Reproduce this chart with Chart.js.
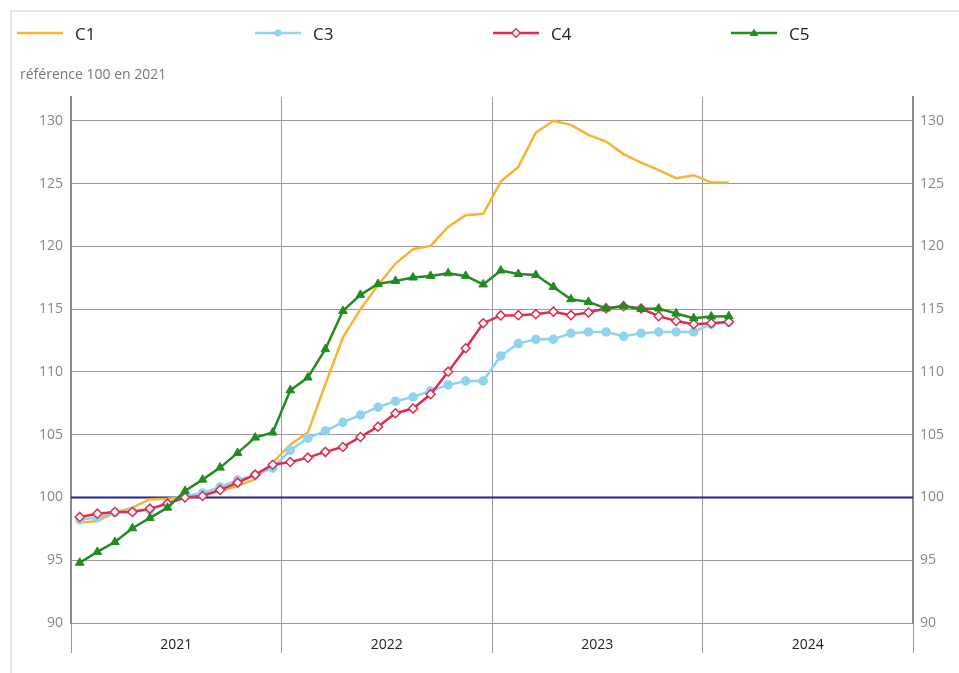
<!DOCTYPE html>
<html lang="fr">
<head>
<meta charset="utf-8">
<script src="https://cdn.jsdelivr.net/npm/chart.js@4"></script>
<style>
  html, body { margin: 0; padding: 0; background: #fff; overflow: hidden; }
  body { width: 959px; height: 673px; position: relative; font-family: 'Open Sans', sans-serif; }
  .frame { position: absolute; left: 10px; top: 10px; width: 980px; height: 700px; border: 2px solid #e4e4e4; box-sizing: border-box; }
  .legend { position: absolute; left: 17px; top: 21px; height: 26px; }
  .legend-item { position: absolute; top: 0; white-space: nowrap; font-size: 17px; color: #222; line-height: 26px; }
  .legend-item svg { position: absolute; left: 0; top: 5px; }
  .legend-item span { position: absolute; left: 58px; top: 0; }
  .subtitle { position: absolute; left: 20px; top: 64px; font-size: 14px; color: #777; }
  .chart-box { position: absolute; left: 0; top: 0; width: 959px; height: 673px; }
</style>
</head>
<body>
<div class="frame"></div>
<div class="chart-box"><canvas id="indexChart"></canvas></div>
<div class="legend" id="legend"></div>
<div class="subtitle">référence 100 en 2021</div>
<script>
const MONTHS = [
  '2021-01', '2021-02', '2021-03', '2021-04', '2021-05', '2021-06',
  '2021-07', '2021-08', '2021-09', '2021-10', '2021-11', '2021-12',
  '2022-01', '2022-02', '2022-03', '2022-04', '2022-05', '2022-06',
  '2022-07', '2022-08', '2022-09', '2022-10', '2022-11', '2022-12',
  '2023-01', '2023-02', '2023-03', '2023-04', '2023-05', '2023-06',
  '2023-07', '2023-08', '2023-09', '2023-10', '2023-11', '2023-12',
  '2024-01', '2024-02',
];
const YEARS = ['2021', '2022', '2023', '2024'];
const Y_TICKS = [90, 95, 100, 105, 110, 115, 120, 125, 130];
const REF_VALUE = 100;

const C1 = [97.99, 98.13, 98.79, 99.19, 99.86, 99.9, 100.04, 100.25, 100.52, 100.92, 101.45, 102.77,
  104.2, 105.17, 109.02, 112.73, 115.0, 116.9, 118.63, 119.78, 120.04, 121.55, 122.49, 122.6,
  125.16, 126.33, 129.07, 130.0, 129.68, 128.88, 128.35, 127.35, 126.68, 126.07, 125.43, 125.67,
  125.08, 125.08];
const C3 = [98.22, 98.4, 98.8, 98.9, 99.0, 99.5, 100.1, 100.36, 100.84, 101.39, 101.8, 102.33,
  103.76, 104.72, 105.3, 105.99, 106.57, 107.19, 107.67, 108.0, 108.49, 108.96, 109.28, 109.28,
  111.27, 112.26, 112.6, 112.6, 113.08, 113.19, 113.19, 112.84, 113.08, 113.19, 113.19, 113.19,
  113.8, 113.93];
const C4 = [98.45, 98.71, 98.84, 98.84, 99.11, 99.51, 100.0, 100.12, 100.6, 101.18, 101.82, 102.61,
  102.83, 103.17, 103.63, 104.02, 104.82, 105.64, 106.71, 107.08, 108.22, 110.02, 111.89, 113.88,
  114.5, 114.52, 114.6, 114.8, 114.52, 114.73, 115.07, 115.23, 115.05, 114.44, 114.06, 113.8,
  113.88, 114.0];
const C5 = [94.8, 95.66, 96.45, 97.55, 98.37, 99.19, 100.52, 101.42, 102.38, 103.55, 104.77, 105.17,
  108.54, 109.55, 111.81, 114.86, 116.14, 117.0, 117.25, 117.52, 117.65, 117.86, 117.65, 116.97,
  118.08, 117.8, 117.72, 116.77, 115.79, 115.58, 115.05, 115.26, 115.02, 115.05, 114.65, 114.28,
  114.41, 114.44];

const COLORS = {
  c1: '#fbb234',
  c3: '#90d3ef',
  c4: '#dc2d52',
  c5: '#228b22',
  ref: '#25258f',
  grid: '#999999',
  axis: '#8a8a8a',
};

// month string -> position on a 0..48 axis (middle of the month)
function monthPos(m) {
  const [y, mo] = m.split('-').map(Number);
  return (y - Number(YEARS[0])) * 12 + (mo - 1) + 0.5;
}

function toPoints(values) {
  return values.map((v, i) => ({ x: monthPos(MONTHS[i]), y: v }));
}

const refLine = {
  id: 'refLine',
  beforeDatasetsDraw(chart) {
    const { ctx, chartArea, scales } = chart;
    const y = scales.y.getPixelForValue(REF_VALUE);
    ctx.save();
    ctx.strokeStyle = COLORS.ref;
    ctx.lineWidth = 2;
    ctx.beginPath();
    ctx.moveTo(chartArea.left, y);
    ctx.lineTo(chartArea.right, y);
    ctx.stroke();
    ctx.restore();
  },
};

function buildLegend() {
  const items = [
    { label: 'C1', color: COLORS.c1, marker: '' },
    { label: 'C3', color: COLORS.c3, marker: `<circle cx="23" cy="7" r="3.5" fill="${COLORS.c3}"/>` },
    { label: 'C4', color: COLORS.c4, marker: `<rect x="20" y="4" width="6" height="6" transform="rotate(45 23 7)" fill="#fff" stroke="${COLORS.c4}" stroke-width="1.5"/>` },
    { label: 'C5', color: COLORS.c5, marker: `<path d="M23 2.5 L27.5 10 L18.5 10 Z" fill="${COLORS.c5}"/>` },
  ];
  document.getElementById('legend').innerHTML = items
    .map((it, i) => `
      <div class="legend-item" style="left:${i * 238}px">
        <svg width="46" height="14" viewBox="0 0 46 14">
          <line x1="0" y1="7" x2="46" y2="7" stroke="${it.color}" stroke-width="2.5"/>
          ${it.marker}
        </svg>
        <span>${it.label}</span>
      </div>`)
    .join('');
}

function initChart() {
  const yTickFont = { family: 'Open Sans', size: 14 };
  const ctx = document.getElementById('indexChart').getContext('2d');
  new Chart(ctx, {
    type: 'line',
    data: {
      datasets: [
        {
          label: 'C5',
          data: toPoints(C5),
          borderColor: COLORS.c5,
          backgroundColor: COLORS.c5,
          borderWidth: 2.5,
          pointStyle: 'triangle',
          pointRadius: 5,
          pointBorderWidth: 1,
          tension: 0,
          order: 0,
        },
        {
          label: 'C4',
          data: toPoints(C4),
          borderColor: COLORS.c4,
          backgroundColor: '#ffffff',
          borderWidth: 2.5,
          pointStyle: 'rectRot',
          pointRadius: 4.5,
          pointBorderWidth: 1.5,
          tension: 0,
          order: 1,
        },
        {
          label: 'C3',
          data: toPoints(C3),
          borderColor: COLORS.c3,
          backgroundColor: COLORS.c3,
          borderWidth: 2.5,
          pointStyle: 'circle',
          pointRadius: 3.5,
          tension: 0,
          order: 2,
        },
        {
          label: 'C1',
          data: toPoints(C1),
          borderColor: COLORS.c1,
          borderWidth: 2.5,
          pointRadius: 0,
          tension: 0,
          order: 3,
        },
      ],
    },
    options: {
      animation: false,
      responsive: true,
      maintainAspectRatio: false,
      layout: { padding: { left: 11, top: 97, right: 0, bottom: 0 } },
      plugins: {
        legend: { display: false },
        tooltip: { enabled: false },
      },
      scales: {
        x: {
          type: 'linear',
          min: 0,
          max: YEARS.length * 12,
          afterBuildTicks: scale => {
            const ticks = [];
            for (let v = 0; v <= YEARS.length * 12; v += 6) ticks.push({ value: v });
            scale.ticks = ticks;
          },
          afterFit: scale => { scale.height = 50; },
          border: { display: false },
          grid: {
            color: c => (c.tick && c.tick.value % 12 === 0 ? COLORS.grid : 'rgba(0,0,0,0)'),
            lineWidth: 1,
            tickLength: 30,
            drawTicks: true,
          },
          ticks: {
            autoSkip: false,
            maxRotation: 0,
            padding: -16,
            color: '#222',
            font: { family: 'Open Sans', size: 14 },
            callback: v => (v % 12 === 6 ? YEARS[(v - 6) / 12] : ''),
          },
        },
        y: {
          position: 'left',
          min: 90,
          max: 131.9,
          afterBuildTicks: scale => { scale.ticks = Y_TICKS.map(v => ({ value: v })); },
          afterFit: scale => { scale.width = 60; },
          border: { color: COLORS.axis, width: 2 },
          grid: { color: COLORS.grid, lineWidth: 1, drawTicks: false },
          ticks: { color: '#888', font: yTickFont, padding: 8 },
        },
        y2: {
          position: 'right',
          min: 90,
          max: 131.9,
          afterBuildTicks: scale => { scale.ticks = Y_TICKS.map(v => ({ value: v })); },
          afterFit: scale => { scale.width = 46; },
          border: { color: COLORS.axis, width: 2 },
          grid: { display: false, drawTicks: false },
          ticks: { color: '#888', font: yTickFont, padding: 7 },
        },
      },
    },
    plugins: [refLine],
  });
}

window.addEventListener('load', () => {
  buildLegend();
  initChart();
});
</script>
</body>
</html>
